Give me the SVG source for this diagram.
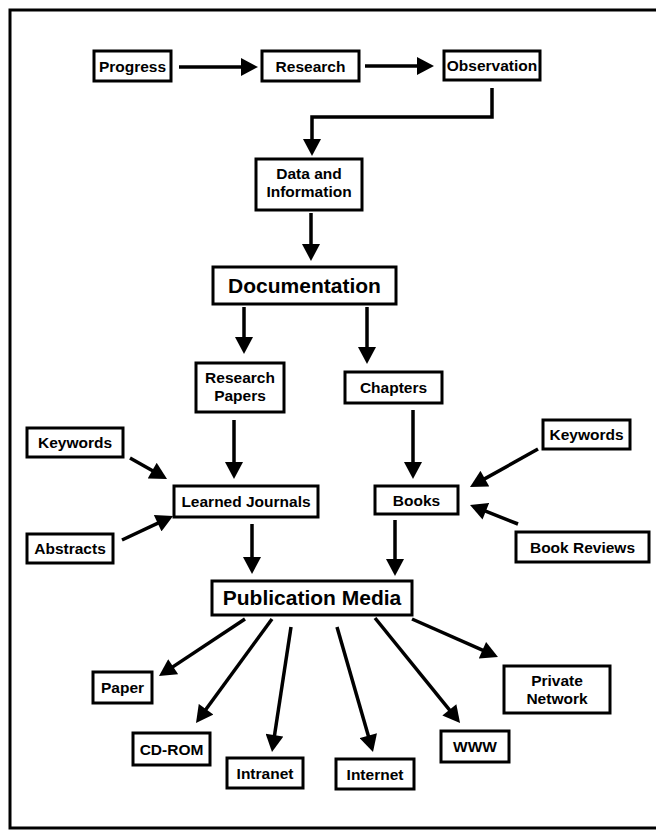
<svg xmlns="http://www.w3.org/2000/svg" width="656" height="830" viewBox="0 0 656 830">
<style>
.box{fill:#fff;stroke:#000;stroke-width:3}
.t{font-family:"Liberation Sans",Arial,Helvetica,sans-serif;font-weight:bold;font-size:15.5px;fill:#000;text-anchor:middle}
.big{font-size:21px}
.c{stroke:#000;stroke-width:3.5;fill:none;marker-end:url(#ah)}
</style>
<defs>
<marker id="ah" markerUnits="userSpaceOnUse" markerWidth="18" markerHeight="18" viewBox="0 0 17 18" refX="5" refY="9" orient="auto">
<path d="M0,0 L17,9 L0,18 Z" fill="#000"/>
</marker>
</defs>
<rect width="656" height="830" fill="#fff"/>
<path d="M656,10 H10 V828 H656" fill="none" stroke="#000" stroke-width="3"/>
<g id="connectors">
<line class="c" x1="179" y1="67" x2="246" y2="67"/>
<line class="c" x1="365" y1="66" x2="422" y2="66"/>
<path class="c" d="M492,88 V117 H312 V144"/>
<line class="c" x1="311" y1="213" x2="311" y2="249"/>
<line class="c" x1="244" y1="307" x2="244" y2="342"/>
<line class="c" x1="367" y1="307" x2="367" y2="352"/>
<line class="c" x1="234" y1="420" x2="234" y2="467"/>
<line class="c" x1="413" y1="410" x2="413" y2="467"/>
<line class="c" x1="130" y1="458" x2="156.6" y2="473.1"/>
<line class="c" x1="122" y1="540" x2="162.2" y2="521.1"/>
<line class="c" x1="538" y1="449" x2="480.5" y2="481.1"/>
<line class="c" x1="518" y1="524" x2="481.2" y2="509.4"/>
<line class="c" x1="252" y1="524" x2="252" y2="562"/>
<line class="c" x1="395" y1="520" x2="395" y2="564"/>
<line class="c" x1="245" y1="619" x2="169" y2="669.4"/>
<line class="c" x1="272" y1="619" x2="203.1" y2="713.3"/>
<line class="c" x1="291" y1="627" x2="273.8" y2="740.1"/>
<line class="c" x1="337" y1="627" x2="369.7" y2="740.5"/>
<line class="c" x1="375" y1="618" x2="452.5" y2="713.7"/>
<line class="c" x1="412" y1="619" x2="487" y2="652.2"/>
</g>
<g id="progress"><rect class="box" x="94" y="51" width="77" height="30"/><text class="t" x="132.5" y="72">Progress</text></g>
<g id="research"><rect class="box" x="262" y="51" width="97" height="30"/><text class="t" x="310.5" y="72">Research</text></g>
<g id="observation"><rect class="box" x="444" y="51" width="96" height="29"/><text class="t" x="492" y="71">Observation</text></g>
<g id="data"><rect class="box" x="256" y="159" width="106" height="51"/><text class="t" x="309" y="179">Data and</text><text class="t" x="309" y="197">Information</text></g>
<g id="documentation"><rect class="box" x="213" y="267" width="183" height="37"/><text class="t big" x="304.5" y="293">Documentation</text></g>
<g id="research-papers"><rect class="box" x="196" y="363" width="88" height="49"/><text class="t" x="240" y="383">Research</text><text class="t" x="240" y="401">Papers</text></g>
<g id="chapters"><rect class="box" x="345" y="372" width="97" height="31"/><text class="t" x="393.5" y="393">Chapters</text></g>
<g id="keywords-left"><rect class="box" x="27" y="428" width="96" height="29"/><text class="t" x="75" y="448">Keywords</text></g>
<g id="learned-journals"><rect class="box" x="174" y="486" width="144" height="31"/><text class="t" x="246" y="507">Learned Journals</text></g>
<g id="keywords-right"><rect class="box" x="543" y="420" width="87" height="29"/><text class="t" x="586.5" y="440">Keywords</text></g>
<g id="books"><rect class="box" x="375" y="486" width="83" height="28"/><text class="t" x="416.5" y="506">Books</text></g>
<g id="abstracts"><rect class="box" x="27" y="534" width="86" height="29"/><text class="t" x="70" y="554">Abstracts</text></g>
<g id="book-reviews"><rect class="box" x="516" y="532" width="133" height="30"/><text class="t" x="582.5" y="553">Book Reviews</text></g>
<g id="publication-media"><rect class="box" x="212" y="581" width="200" height="34"/><text class="t big" x="312" y="605">Publication Media</text></g>
<g id="paper"><rect class="box" x="93" y="672" width="59" height="31"/><text class="t" x="122.5" y="693">Paper</text></g>
<g id="cd-rom"><rect class="box" x="133" y="733" width="77" height="32"/><text class="t" x="171.5" y="755">CD-ROM</text></g>
<g id="intranet"><rect class="box" x="227" y="758" width="76" height="30"/><text class="t" x="265" y="779">Intranet</text></g>
<g id="internet"><rect class="box" x="336" y="759" width="78" height="30"/><text class="t" x="375" y="780">Internet</text></g>
<g id="www"><rect class="box" x="441" y="731" width="68" height="31"/><text class="t" x="475" y="752">WWW</text></g>
<g id="private-network"><rect class="box" x="504" y="666" width="106" height="47"/><text class="t" x="557" y="686">Private</text><text class="t" x="557" y="704">Network</text></g>
</svg>
